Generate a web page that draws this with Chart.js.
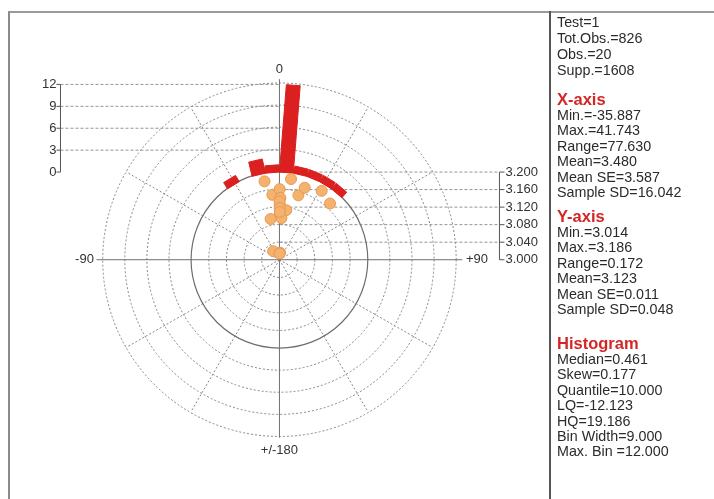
<!DOCTYPE html>
<html>
<head>
<meta charset="utf-8">
<script src="https://cdn.jsdelivr.net/npm/chart.js@4.4.1/dist/chart.umd.min.js"></script>
<style>
body { margin: 0; background: #fff; }
#wrap { position: relative; width: 714px; height: 499px; overflow: hidden; font-family: "Liberation Sans", Arial, sans-serif; }
#frame { position: absolute; left: 8px; top: 11px; width: 706px; height: 488px; border-top: 2px solid #9a9a9a; border-left: 2px solid #8a8a8a; box-sizing: border-box; }
#divider { position: absolute; left: 549px; top: 11px; width: 2px; height: 488px; background: #555; }
#c { position: absolute; left: 0; top: 0; }
.blk { position: absolute; left: 557px; white-space: nowrap; color: #2b2b2b; font-size: 14.3px; line-height: 15.4px; }
.blk .hd { color: #d42626; font-weight: bold; font-size: 16.5px; line-height: 17px; }
</style>
</head>
<body>
<div id="wrap">
  <div id="frame"></div>
  <div id="divider"></div>
  <canvas id="c" width="714" height="499"></canvas>
  <div class="blk" id="b0" style="top:14px;line-height:16px"></div>
  <div class="blk" id="b1" style="top:91px"></div>
  <div class="blk" id="b2" style="top:208px"></div>
  <div class="blk" id="b3" style="top:335px"></div>
</div>
<script>
'use strict';

// Histogram of the X values (angle, degrees), bin width 9
const BIN_WIDTH = 9;
const binStart = [-36, -27, -18, -9, 0, 9, 18, 27, 36];
const binCount = [1, 0, 2, 1, 12, 1, 1, 1, 1];

// Observations: X = angle in degrees (0 at top), Y = value
const obsAngle = [
    -35.887, -12.123, -10.7, -6.2, 0.45, 0.2, 0.9, 0.3, 7.8, 2.7,
    5.0, 8.1, 0.1, 0.25, 0.4, 0.47, 16.3, 19.186, 31.3, 41.743
];
const obsValue = [
    3.024, 3.095, 3.182, 3.149, 3.105, 3.161, 3.141, 3.126, 3.114, 3.095,
    3.016, 3.186, 3.133, 3.118, 3.109, 3.014, 3.153, 3.174, 3.184, 3.172
];

// Tick labels
const countTicks = [0, 3, 6, 9, 12];
const valueTicks = [3.000, 3.040, 3.080, 3.120, 3.160, 3.200];
const angleLabels = ['0', '+90', '+/-180', '-90'];

// Text panel
const headerStats = ['Test=1', 'Tot.Obs.=826', 'Obs.=20', 'Supp.=1608'];
const xAxisStats = ['Min.=-35.887', 'Max.=41.743', 'Range=77.630', 'Mean=3.480', 'Mean SE=3.587', 'Sample SD=16.042'];
const yAxisStats = ['Min.=3.014', 'Max.=3.186', 'Range=0.172', 'Mean=3.123', 'Mean SE=0.011', 'Sample SD=0.048'];
const histStats = ['Median=0.461', 'Skew=0.177', 'Quantile=10.000', 'LQ=-12.123', 'HQ=19.186', 'Bin Width=9.000', 'Max. Bin =12.000'];

function fillBlock(id, title, lines) {
    const el = document.getElementById(id);
    if (title) {
        const h = document.createElement('div');
        h.className = 'hd';
        h.textContent = title;
        el.appendChild(h);
    }
    for (const t of lines) {
        const d = document.createElement('div');
        d.textContent = t;
        el.appendChild(d);
    }
}
fillBlock('b0', null, headerStats);
fillBlock('b1', 'X-axis', xAxisStats);
fillBlock('b2', 'Y-axis', yAxisStats);
fillBlock('b3', 'Histogram', histStats);

// radius 1 = the 3.200 ring = count 0 of the histogram
const VMIN = valueTicks[0], VMAX = valueTicks[valueTicks.length - 1];
const CMAX = countTicks[countTicks.length - 1];
function valueToR(v) { return (v - VMIN) / (VMAX - VMIN); }
function countToR(c) { return 1 + c / CMAX; }
function polar(deg, r) {
    const a = deg * Math.PI / 180;
    return { x: r * Math.sin(a), y: r * Math.cos(a) };
}

// canvas layout: centre of the polar plot and pixels per radius unit
const W = 714, H = 499, CX = 278, CY = 260, UNIT = 90;
const AXIS_LEFT = -2.478, AXIS_RIGHT = 2.49;

const datasets = [];

// one radial bar per histogram bin: base is the bin's chord on the 3.200 ring,
// sides run outward along the bin's centre direction
binStart.forEach(function (b, i) {
    if (!binCount[i]) return;
    const h = countToR(binCount[i]) - countToR(0);
    const d = polar(b + BIN_WIDTH / 2, 1);
    const p0 = polar(b, countToR(0));
    const p1 = polar(b + BIN_WIDTH, countToR(0));
    const pts = [
        p0,
        { x: p0.x + d.x * h, y: p0.y + d.y * h },
        { x: p1.x + d.x * h, y: p1.y + d.y * h },
        p1,
        p0
    ];
    datasets.push({
        type: 'line',
        data: pts,
        borderColor: '#d81e1e',
        backgroundColor: '#dc2020',
        borderWidth: 1,
        pointRadius: 0,
        tension: 0,
        fill: 'shape',
        order: 2
    });
});

// observations
datasets.push({
    type: 'scatter',
    data: obsAngle.map((a, i) => polar(a, valueToR(obsValue[i]))),
    backgroundColor: '#f4b26e',
    borderColor: '#e69a52',
    borderWidth: 1,
    pointRadius: 5.5,
    order: 1
});

const polarGrid = {
    id: 'polarGrid',
    beforeDatasetsDraw(chart) {
        const { ctx, scales: { x, y } } = chart;
        const cx = x.getPixelForValue(0), cy = y.getPixelForValue(0);
        const rad = r => x.getPixelForValue(r) - cx;
        const line = (x1, y1, x2, y2) => {
            ctx.beginPath();
            ctx.moveTo(x.getPixelForValue(x1), y.getPixelForValue(y1));
            ctx.lineTo(x.getPixelForValue(x2), y.getPixelForValue(y2));
            ctx.stroke();
        };
        ctx.save();

        // dashed rings and spokes
        ctx.strokeStyle = '#868686';
        ctx.lineWidth = 1;
        ctx.setLineDash([2, 2]);
        const rings = valueTicks.slice(1, -1).map(valueToR).concat(countTicks.slice(1).map(countToR));
        for (const r of rings) {
            ctx.beginPath();
            ctx.arc(cx, cy, rad(r), 0, 2 * Math.PI);
            ctx.stroke();
        }
        for (let a = 30; a < 360; a += 30) {
            if (a % 90 === 0) continue;
            const p = polar(a, countToR(CMAX));
            line(0, 0, p.x, p.y);
        }

        // reference lines to the two side axes
        ctx.setLineDash([3, 2]);
        ctx.strokeStyle = '#949494';
        for (const c of countTicks.slice(1)) line(AXIS_LEFT, countToR(c), 0, countToR(c));
        for (const v of valueTicks.slice(1)) line(0, valueToR(v), AXIS_RIGHT, valueToR(v));

        // solid 3.200 ring and main axes
        ctx.setLineDash([]);
        ctx.strokeStyle = '#6e6e6e';
        ctx.lineWidth = 1.2;
        ctx.beginPath();
        ctx.arc(cx, cy, rad(1), 0, 2 * Math.PI);
        ctx.stroke();
        ctx.strokeStyle = '#707070';
        ctx.lineWidth = 1;
        line(0, 2.06, 0, -2.03);
        line(-2.07, 0, 2.07, 0);

        // side axes
        ctx.strokeStyle = '#555';
        line(AXIS_LEFT, countToR(0), AXIS_LEFT, countToR(CMAX));
        line(AXIS_RIGHT, valueToR(VMIN), AXIS_RIGHT, valueToR(VMAX));
        ctx.fillStyle = '#333';
        ctx.font = '13px "Liberation Sans", Arial, sans-serif';
        ctx.textBaseline = 'middle';
        const lx = x.getPixelForValue(AXIS_LEFT), rx = x.getPixelForValue(AXIS_RIGHT);
        ctx.textAlign = 'right';
        for (const c of countTicks) {
            const py = y.getPixelForValue(countToR(c));
            ctx.beginPath(); ctx.moveTo(lx - 4, py); ctx.lineTo(lx, py); ctx.stroke();
            ctx.fillText(String(c), lx - 4, py);
        }
        ctx.textAlign = 'left';
        for (const v of valueTicks) {
            const py = y.getPixelForValue(valueToR(v));
            ctx.beginPath(); ctx.moveTo(rx, py); ctx.lineTo(rx + 5, py); ctx.stroke();
            ctx.fillText(v.toFixed(3), rx + 6, py);
        }

        // angle labels
        ctx.textAlign = 'center';
        ctx.fillText(angleLabels[0], cx, y.getPixelForValue(2.17));
        ctx.fillText(angleLabels[2], cx, y.getPixelForValue(-2.17));
        ctx.textAlign = 'left';
        ctx.fillText(angleLabels[1], x.getPixelForValue(2.11), cy);
        ctx.textAlign = 'right';
        ctx.fillText(angleLabels[3], x.getPixelForValue(-2.1), cy);
        ctx.restore();
    }
};

new Chart(document.getElementById('c'), {
    type: 'scatter',
    data: { datasets: datasets },
    options: {
        responsive: false,
        animation: false,
        layout: { padding: 0 },
        plugins: { legend: { display: false }, tooltip: { enabled: false } },
        scales: {
            x: { type: 'linear', display: false, min: -CX / UNIT, max: (W - CX) / UNIT },
            y: { type: 'linear', display: false, min: -(H - CY) / UNIT, max: CY / UNIT }
        }
    },
    plugins: [polarGrid]
});
</script>
</body>
</html>
